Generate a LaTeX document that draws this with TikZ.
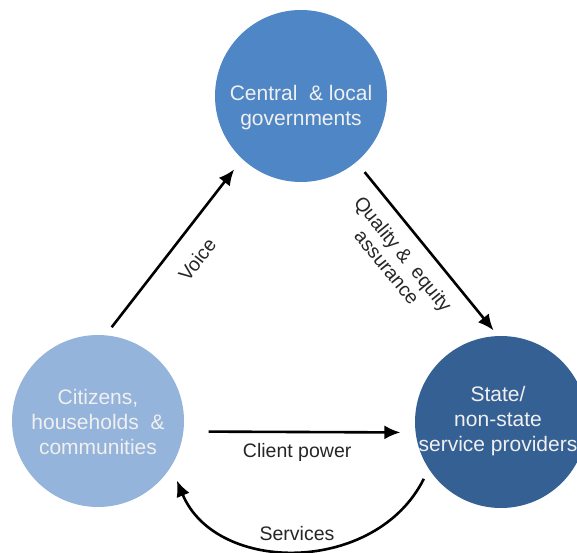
\documentclass[tikz,border=0pt]{standalone}
\usepackage{fontspec}
\setmainfont{Liberation Sans}
\usetikzlibrary{positioning}
\usetikzlibrary{calc}
\usetikzlibrary{arrows.meta}

\definecolor{govblue}{RGB}{79,134,198}
\definecolor{citblue}{RGB}{149,180,219}
\definecolor{provblue}{RGB}{52,96,148}

\begin{document}
\begin{tikzpicture}[x=1pt, y=1pt, text centered,
        actor/.style={circle, minimum size=172pt, inner sep=0pt},
        actortext/.style={align=center, text=white!94!black, font=\fontsize{21}{25}\selectfont},
        flow/.style={-{Latex[length=16pt, width=14pt]}, line width=2.6pt},
        flowlabel/.style={align=center, text=black!85, font=\fontsize{19.5}{21}\selectfont}]
        \useasboundingbox (0,0) rectangle (577,552);

        \node[actor, fill=govblue, label={[actortext, yshift=-12pt]center:Central\ \ \& local\\governments}] (gov) at (301,456) {};
        \node[actor, fill=citblue, label={[actortext, yshift=-1pt]center:Citizens,\\households\ \ \&\\communities}] (cit) at (98,131) {};
        \node[actor, fill=provblue, label={[actortext, xshift=-3pt, yshift=1pt]center:State/\\non-state\\service providers}] (prov) at (501,130) {};

        \draw[flow, shorten <=10pt, shorten >=13pt] (cit.85) -- node[flowlabel, sloped, pos=0.52, yshift=-26pt] (voice) {Voice} (gov.227);
        \draw[flow, shorten <=13pt, shorten >=7pt] (gov.-50) -- node[flowlabel, sloped, pos=0.45, yshift=-32pt] (quality) {Quality \& \ equity\\assurance} (prov.92);
        \draw[flow, shorten <=25pt, shorten >=15pt] (cit.-7) -- node[flowlabel, pos=0.49, yshift=-20pt] (client) {Client power} (prov.187);
        \draw[flow, shorten <=11pt, shorten >=15pt] (prov.213) .. controls (376,-22.8) and (216,-22.8) .. node[flowlabel, pos=0.5, yshift=15pt] (services) {Services} (cit.-32);

    \end{tikzpicture}
\end{document}
